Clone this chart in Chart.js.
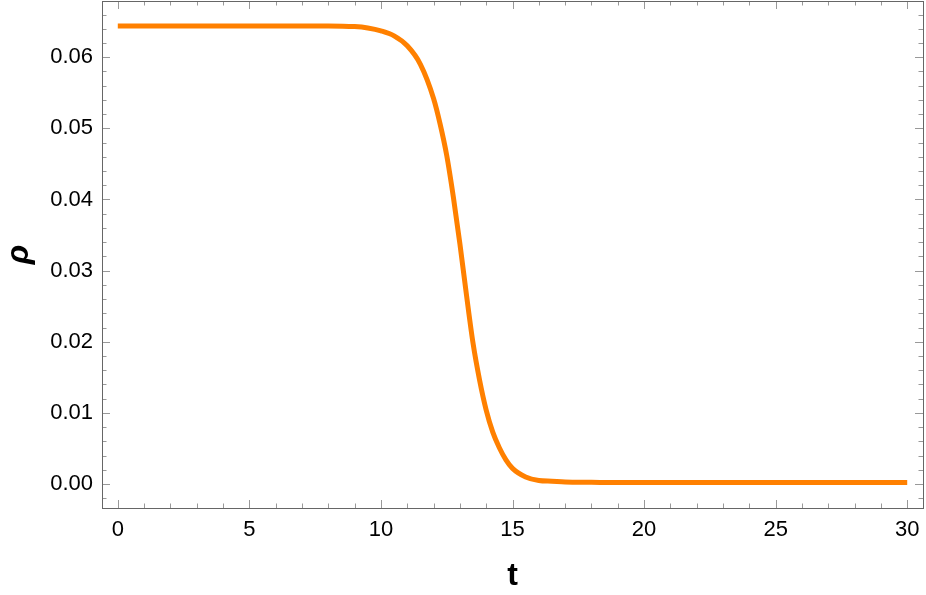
<!DOCTYPE html>
<html>
<head>
<meta charset="utf-8">
<script src="https://cdn.jsdelivr.net/npm/chart.js@4"></script>
<style>
html,body{margin:0;padding:0;background:#fff;}
#wrap{width:926px;height:595px;}
</style>
</head>
<body>
<div id="wrap"><canvas id="c" width="926" height="595"></canvas></div>
<script>
const tValues = [0,1,2,3,4,5,6,7,8,9,9.5,10,10.5,11,11.5,12,12.25,12.5,12.75,13,13.25,13.5,13.75,14,14.25,14.5,14.75,15,15.5,16,16.5,17,18,19,20,21,22,23,24,25,26,27,28,29,30];
const rhoValues = [0.0644,0.0644,0.0644,0.0644,0.0644,0.0644,0.0644,0.0644,0.0644,0.0643,0.0641,0.0637,0.0630,0.0616,0.0590,0.0542,0.0506,0.0462,0.0404,0.0338,0.0266,0.0198,0.0146,0.0104,0.0073,0.0051,0.0034,0.0022,0.0010,0.0005,0.0004,0.0003,0.00025,0.0002,0.0002,0.0002,0.0002,0.0002,0.0002,0.0002,0.0002,0.0002,0.0002,0.0002,0.0002];
const xTickLabels = [0,5,10,15,20,25,30];
const yTickLabels = [0.00,0.01,0.02,0.03,0.04,0.05,0.06];
const xMinorTicks = Array.from({length:31},(_,i)=>i);
const yMinorTicks = [-0.002,0,0.002,0.004,0.006,0.008,0.010,0.012,0.014,0.016,0.018,0.020,0.022,0.024,0.026,0.028,0.030,0.032,0.034,0.036,0.038,0.040,0.042,0.044,0.046,0.048,0.050,0.052,0.054,0.056,0.058,0.060,0.062,0.064,0.066];

const points = tValues.map((t,i)=>({x:t,y:rhoValues[i]}));

const framePlugin = {
  id:'frame',
  afterDatasetsDraw(chart){
    const {ctx, chartArea:a, scales:{x,y}} = chart;
    ctx.save();
    ctx.lineWidth = 1;
    ctx.strokeStyle = '#999';
    ctx.beginPath();
    xMinorTicks.forEach(v=>{
      const px = Math.round(x.getPixelForValue(v))+0.5;
      const len = xTickLabels.includes(v) ? 8 : 4.5;
      ctx.moveTo(px,a.bottom); ctx.lineTo(px,a.bottom-len);
      ctx.moveTo(px,a.top); ctx.lineTo(px,a.top+len);
    });
    yMinorTicks.forEach(v=>{
      const py = Math.round(y.getPixelForValue(v))+0.5;
      const major = yTickLabels.some(t=>Math.abs(t-v)<1e-9);
      const len = major ? 8 : 4.5;
      ctx.moveTo(a.left,py); ctx.lineTo(a.left+len,py);
      ctx.moveTo(a.right,py); ctx.lineTo(a.right-len,py);
    });
    ctx.stroke();
    ctx.strokeStyle = '#666';
    ctx.strokeRect(Math.round(a.left)+0.5, Math.round(a.top)+0.5, Math.round(a.right-a.left), Math.round(a.bottom-a.top));
    ctx.restore();
  }
};

new Chart(document.getElementById('c'), {
  type:'scatter',
  data:{datasets:[{
    data:points,
    showLine:true,
    borderColor:'#FF8000',
    borderWidth:5,
    pointRadius:0,
    cubicInterpolationMode:'monotone',
    fill:false
  }]},
  options:{
    responsive:false,
    animation:false,
    events:[],
    layout:{padding:{left:0,right:3,top:1,bottom:0}},
    plugins:{legend:{display:false},tooltip:{enabled:false}},
    scales:{
      x:{
        type:'linear', min:-0.6, max:30.6,
        afterBuildTicks(s){ s.ticks = xTickLabels.map(v=>({value:v})); },
        afterFit(s){ s.height = 87; s.paddingLeft = 0; s.paddingRight = 0; },
        grid:{display:false, drawTicks:false},
        border:{display:false},
        ticks:{color:'#000', padding:9, font:{family:'Liberation Sans, Arial', size:22}, maxRotation:0, callback:v=>String(v)},
        title:{display:true, text:'t', color:'#000', font:{family:'Liberation Sans, Arial', size:32, weight:'bold'}, padding:{top:10,bottom:0}}
      },
      y:{
        type:'linear', min:-0.00337, max:0.0679,
        afterBuildTicks(s){ s.ticks = yTickLabels.map(v=>({value:v})); },
        afterFit(s){ s.width = 102; s.paddingTop = 0; s.paddingBottom = 0; },
        grid:{display:false, drawTicks:false},
        border:{display:false},
        ticks:{color:'#000', padding:9, font:{family:'Liberation Sans, Arial', size:22}, callback:v=>Number(v).toFixed(2)},
        title:{display:true, text:'ρ', color:'#000', font:{family:'Liberation Sans, Arial', size:32, weight:'bold', style:'italic'}, padding:{top:0,bottom:0}}
      }
    }
  },
  plugins:[framePlugin]
});
</script>
</body>
</html>
